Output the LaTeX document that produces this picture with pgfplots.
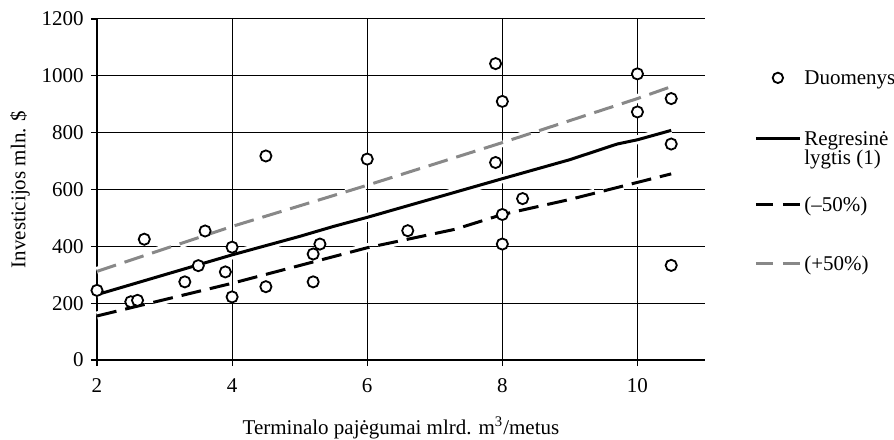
\documentclass[border=0pt]{standalone}
\usepackage{fontspec}
\setmainfont{Liberation Serif}
\usepackage{pgfplots}
\pgfplotsset{compat=1.18}
\definecolor{lgray}{RGB}{136,136,136}

\begin{document}
\fontsize{10.5}{12.6}\selectfont
\begin{tikzpicture}
\begin{axis}[
  scale only axis, width=304pt, height=170.5pt,
  xmin=2, xmax=11, ymin=0, ymax=1200,
  xtick={2,4,6,8,10}, ytick={0,200,400,600,800,1000,1200},
  axis x line*=bottom, axis y line*=left,
  axis line style={-, line width=0.6pt},
  tick align=outside, major tick length=3pt,
  tick style={black, line width=0.6pt},
  grid=major, grid style={black, line width=0.5pt},
  /pgf/number format/assume math mode=true,
  /pgf/number format/1000 sep={},
  xticklabel style={yshift=-2.5pt},
  clip=false,
  xlabel={Terminalo pajėgumai mlrd. m\textsuperscript{3}/metus},
  ylabel={Investicijos mln. \$},
  every axis x label/.style={at={(axis description cs:0.5,0)}, yshift=-34pt, anchor=center},
  every axis y label/.style={at={(axis description cs:0,0.5)}, xshift=-38.5pt, rotate=90, anchor=center},
  legend style={at={(axis description cs:1.0806,0.852)}, anchor=north west,
    draw=none, fill=none, inner sep=0pt, row sep=0pt, column sep=1.5pt,
    nodes={inner sep=0pt}, cells={anchor=base west}},
]
% white halos under the lines
\addplot[white, line width=4.5pt, forget plot] coordinates {
  (2,230) (3,300) (4,370) (5,435) (5.5,470) (6,502) (7,570) (8,638) (9,705) (9.7,760) (10,775) (10.5,808)};
\addplot[white, line width=4.5pt, forget plot, dash pattern=on 10pt off 4.5pt] coordinates {
  (2,155) (4,270) (6,395) (7.3,460) (8,512) (9,565) (10,625) (10.5,655)};
\addplot[white, line width=4.5pt, forget plot, dash pattern=on 10pt off 4.5pt] coordinates {
  (2,312) (4,470) (6,615) (8,765) (10,920) (10.5,962)};
% lines
\addplot[lgray, line width=1.5pt, forget plot, dash pattern=on 10pt off 4.5pt] coordinates {
  (2,312) (4,470) (6,615) (8,765) (10,920) (10.5,962)};
\addplot[black, line width=1.5pt, forget plot, dash pattern=on 10pt off 4.5pt] coordinates {
  (2,155) (4,270) (6,395) (7.3,460) (8,512) (9,565) (10,625) (10.5,655)};
\addplot[black, line width=1.5pt, forget plot] coordinates {
  (2,230) (3,300) (4,370) (5,435) (5.5,470) (6,502) (7,570) (8,638) (9,705) (9.7,760) (10,775) (10.5,808)};
% data
\addplot[only marks, mark=*, mark size=2.8pt, forget plot,
  mark options={fill=white, draw=black, line width=0.9pt}] coordinates {
  (2,245) (2.5,205) (2.6,210) (2.7,425) (3.3,275) (3.5,332) (3.6,454) (3.9,310)
  (4,397) (4,222) (4.5,258) (4.5,718) (5.2,275) (5.2,373) (5.3,408) (6,707)
  (6.6,455) (7.9,1043) (7.9,695) (8,910) (8,512) (8,408) (8.3,568)
  (10,1007) (10,873) (10.5,920) (10.5,760) (10.5,333)};

\addlegendimage{legend image code/.code={\draw[black, line width=0.9pt, fill=white] (11pt,3.5pt) circle (2.6pt);}}
\addlegendentry{\rule{0pt}{7.5pt}Duomenys}
\addlegendimage{legend image code/.code={\draw[black, line width=1.5pt] (0pt,3.5pt) -- (22pt,3.5pt);}}
\addlegendentry{\rule{0pt}{28.7pt}Regresinė}
\addlegendimage{empty legend}
\addlegendentry{\rule{0pt}{8.2pt}lygtis (1)}
\addlegendimage{legend image code/.code={\draw[black, line width=1.5pt, dash pattern=on 8.5pt off 5pt] (0pt,3.5pt) -- (22pt,3.5pt);}}
\addlegendentry{\rule{0pt}{21.7pt}(\textendash50\%)}
\addlegendimage{legend image code/.code={\draw[lgray, line width=1.5pt, dash pattern=on 8.5pt off 5pt] (0pt,3.5pt) -- (22pt,3.5pt);}}
\addlegendentry{\rule{0pt}{27.7pt}(+50\%)}
\end{axis}
\pgfresetboundingbox
\path[use as bounding box] (-48.5pt,-39.5pt) rectangle (398.5pt,180pt);
\end{tikzpicture}
\end{document}
